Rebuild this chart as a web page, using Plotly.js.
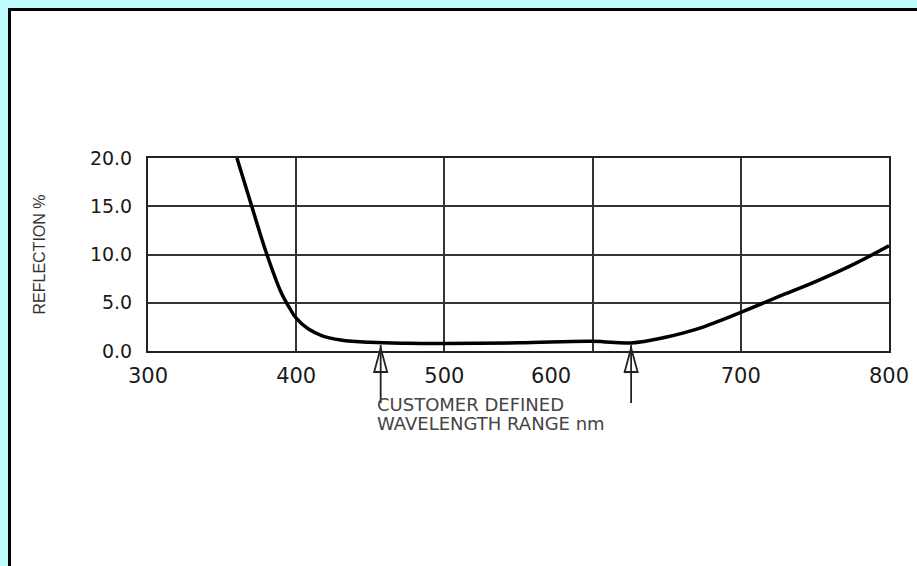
<!DOCTYPE html>
<html>
<head>
<meta charset="utf-8">
<script src="https://cdn.plot.ly/plotly-3.0.1.min.js"></script>
<style>html,body{margin:0;padding:0;background:#bffcfd;overflow:hidden}#chart{width:917px;height:566px}</style>
</head>
<body>
<div id="chart"></div>
<script>
// ---- data ----
const wavelength = [360, 370, 380, 390, 395, 400, 408, 418, 430, 450, 475, 500, 550, 600, 626, 650, 662, 675, 687, 700, 725, 752, 775, 800];
const reflection = [20, 15, 10.1, 6.0, 4.6, 3.4, 2.3, 1.55, 1.15, 0.9, 0.8, 0.78, 0.85, 1.02, 0.84, 1.45, 1.9, 2.5, 3.2, 4.0, 5.6, 7.3, 8.9, 10.9];
const xTickVals = [300, 400, 500, 572, 700, 800];
const xTickText = ['300', '400', '500', '600', '700', '800'];
const xGridVals = [400, 500, 600, 700];
const yTickVals = [0, 5, 10, 15, 20];
const yTickText = ['0.0', '5.0', '10.0', '15.0', '20.0'];
const rangeMarks = [457, 626];
const noteLines = ['CUSTOMER DEFINED', 'WAVELENGTH RANGE nm'];
const yTitle = 'REFLECTION %';

// ---- layout geometry (pixels) ----
const W = 917, H = 566;
const L = 148, R = 889, T = 158, B = 351;
const pw = R - L, ph = B - T;
const px2paperX = p => (p - L) / pw;
const py2paperY = p => (B - p) / ph;
const nmPerPx = 500 / pw;

const shapes = [{
  type: 'rect', xref: 'paper', yref: 'paper', layer: 'below',
  x0: px2paperX(9.5), x1: px2paperX(W + 20), y0: py2paperY(H + 20), y1: py2paperY(9.5),
  fillcolor: '#ffffff', line: {color: '#000000', width: 3}
}];
rangeMarks.forEach(m => {
  shapes.push({
    type: 'line', xref: 'x', yref: 'paper', x0: m, x1: m,
    y0: py2paperY(403), y1: py2paperY(345), line: {color: '#222', width: 1.8}
  });
  const hw = 6.5 * nmPerPx;
  shapes.push({
    type: 'path', xref: 'x', yref: 'paper',
    path: `M ${m} ${py2paperY(348)} L ${m + hw} ${py2paperY(372)} L ${m - hw} ${py2paperY(372)} Z`,
    line: {color: '#222', width: 1.8}, fillcolor: 'rgba(0,0,0,0)'
  });
});

const annotations = [
  {xref: 'paper', yref: 'paper', x: px2paperX(39), y: 0.5, text: yTitle, textangle: -90,
   showarrow: false, xanchor: 'center', yanchor: 'middle',
   font: {family: 'Liberation Sans, Arial, sans-serif', size: 16, color: '#333'}},
  {xref: 'x', yref: 'paper', x: 300 + (375 - L) * nmPerPx, y: py2paperY(404.5), text: noteLines[0],
   showarrow: false, xanchor: 'left', yanchor: 'middle',
   font: {family: 'DejaVu Sans, sans-serif', size: 18, color: '#444'}},
  {xref: 'x', yref: 'paper', x: 300 + (375 - L) * nmPerPx, y: py2paperY(423.5), text: noteLines[1],
   showarrow: false, xanchor: 'left', yanchor: 'middle',
   font: {family: 'DejaVu Sans, sans-serif', size: 18, color: '#444'}}
];

const trace = {
  x: wavelength, y: reflection, type: 'scatter', mode: 'lines',
  line: {color: '#000', width: 3.5, shape: 'spline', smoothing: 1.1},
  hoverinfo: 'skip'
};

const layout = {
  width: W, height: H,
  margin: {l: L, r: W - R, t: T, b: H - B, pad: 0},
  paper_bgcolor: '#bffcfd', plot_bgcolor: 'rgba(0,0,0,0)',
  showlegend: false,
  xaxis: {
    range: [300, 800], tickmode: 'array', tickvals: xTickVals, ticktext: xTickText,
    showgrid: false, zeroline: false, showline: true, mirror: true,
    linecolor: '#222', linewidth: 2, ticks: '', ticklabelstandoff: 5,
    tickfont: {family: 'DejaVu Sans, sans-serif', size: 21, color: '#1a1a1a'},
    minor: {tickmode: 'array', tickvals: xGridVals, showgrid: true, gridcolor: '#333', gridwidth: 2, ticks: ''},
    fixedrange: true
  },
  yaxis: {
    range: [0, 20], tickmode: 'array', tickvals: yTickVals, ticktext: yTickText,
    showgrid: true, gridcolor: '#333', gridwidth: 2, zeroline: false,
    showline: true, mirror: true, linecolor: '#222', linewidth: 2, ticks: '', ticklabelstandoff: 10,
    tickfont: {family: 'DejaVu Sans, sans-serif', size: 19, color: '#1a1a1a'},
    fixedrange: true
  },
  shapes: shapes,
  annotations: annotations
};

Plotly.newPlot('chart', [trace], layout, {displayModeBar: false, staticPlot: true});
</script>
</body>
</html>
